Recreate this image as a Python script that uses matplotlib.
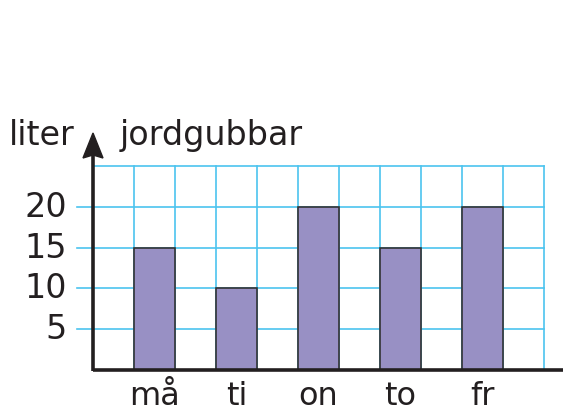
import matplotlib.pyplot as plt
from matplotlib.patches import Polygon

days = ["må", "ti", "on", "to", "fr"]
liters = [15, 10, 20, 15, 20]
y_ticks = [5, 10, 15, 20]

bar_color = "#9890c4"
grid_color = "#4cc4ef"
text_color = "#231f20"

plt.rcParams["font.family"] = ["DejaVu Sans"]

W, H = 563, 413
fig = plt.figure(figsize=(W / 100, H / 100), dpi=100)

# pixel geometry: origin at (93, 370), 41 px per column, 8.16 px per liter
x0, y0 = 93, 370
col = 41.0
unit = 8.16
xmax = (W - x0) / col
ymax = (y0 - 0) / unit
ax = fig.add_axes([x0 / W, (H - y0) / H, (W - x0) / W, y0 / H])
ax.set_xlim(0, xmax)
ax.set_ylim(0, ymax)
ax.axis("off")

# grid
n_cols = 11
for i in range(1, n_cols + 1):
    ax.plot([i, i], [0, 25], color=grid_color, lw=1.2, zorder=1)
for v in y_ticks:
    ax.plot([-16 / col, n_cols], [v, v], color=grid_color, lw=1.2, zorder=1, clip_on=False)
ax.plot([0, n_cols], [25, 25], color=grid_color, lw=1.2, zorder=1)

# bars
positions = [1.5 + 2 * i for i in range(len(days))]
ax.bar(positions, liters, width=1.0, color=bar_color, edgecolor="#333333",
       linewidth=1.2, zorder=2)

# axes with arrow head
ax.plot([0, xmax], [0, 0], color=text_color, lw=2.6, zorder=3, solid_capstyle="butt", clip_on=False)
ax.plot([0, 0], [-1.3 / unit, 215 / unit], color=text_color, lw=2.6, zorder=3,
        solid_capstyle="butt", clip_on=False)
head = Polygon([(0, 237 / unit), (-10 / col, 212 / unit), (0, 215 / unit), (10 / col, 212 / unit)],
               closed=True, color=text_color, zorder=4, clip_on=False)
ax.add_patch(head)

# labels
for p, d in zip(positions, days):
    ax.text(p, -35 / unit, d, ha="center", va="baseline", fontsize=23, color=text_color)
for v in y_ticks:
    ax.text(-26 / col, v - 10 / unit, str(v), ha="right", va="baseline", fontsize=24,
            color=text_color)
ax.text(-18 / col, 225 / unit, "liter", ha="right", va="baseline", fontsize=24, color=text_color)
ax.text(27 / col, 225 / unit, "jordgubbar", ha="left", va="baseline", fontsize=24,
        color=text_color)

fig.savefig("out.png", dpi=100)
